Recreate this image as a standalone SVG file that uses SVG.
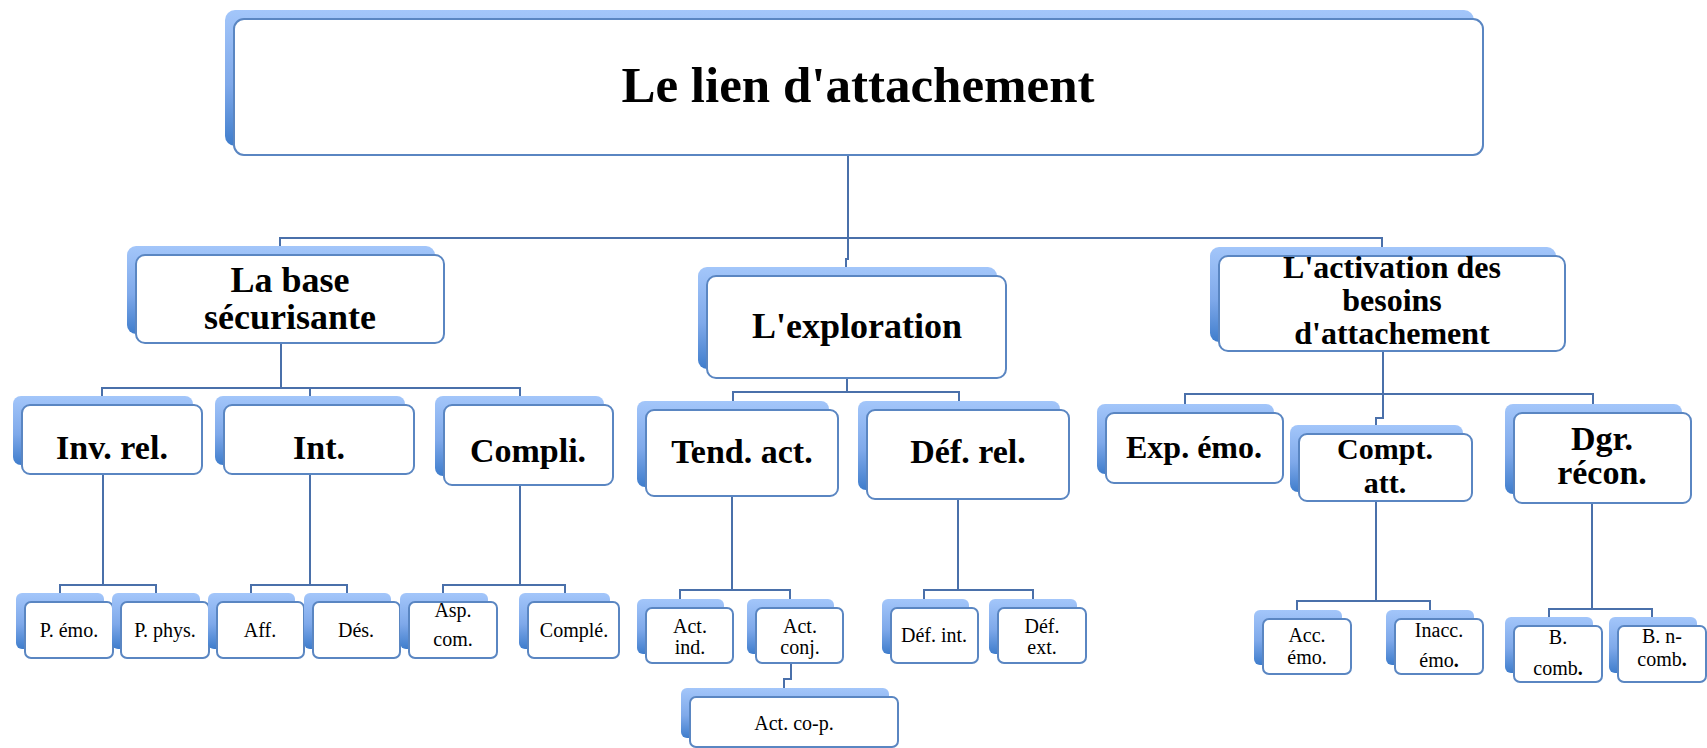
<svg xmlns="http://www.w3.org/2000/svg" width="1707" height="748" viewBox="0 0 1707 748">
<defs>
<linearGradient id="bg" x1="0" y1="0" x2="0" y2="1">
<stop offset="0" stop-color="#a3c6fa"/>
<stop offset="0.55" stop-color="#7fa9ea"/>
<stop offset="1" stop-color="#3f7dcc"/>
</linearGradient>
</defs>
<style>
.back{fill:url(#bg);stroke:none}
.front{fill:#ffffff;stroke:#5a86c2;stroke-width:2}
.conn{fill:none;stroke:#4a70aa;stroke-width:2}
.t0{font-family:"Liberation Serif",serif;font-weight:bold;font-size:51px;fill:#000;text-anchor:middle}
.t1{font-family:"Liberation Serif",serif;font-weight:bold;font-size:36px;fill:#000;text-anchor:middle}
.t2{font-family:"Liberation Serif",serif;font-weight:bold;font-size:34px;fill:#000;text-anchor:middle}
.t2s{font-family:"Liberation Serif",serif;font-weight:bold;font-size:32px;fill:#000;text-anchor:middle}
.t2x{font-family:"Liberation Serif",serif;font-weight:bold;font-size:30px;fill:#000;text-anchor:middle}
.t3{font-family:"Liberation Serif",serif;font-size:20px;fill:#000;text-anchor:middle}
.b{font-weight:bold}
</style>
<g id="connectors">
<path class="conn" d="M848,155 V259 H846 V267"/>
<path class="conn" d="M280,246 V238 H1382 V247"/>
<path class="conn" d="M281,343 V388"/>
<path class="conn" d="M102,396 V388 H520 V396 M310,388 V396"/>
<path class="conn" d="M847,378 V392"/>
<path class="conn" d="M733,401 V392 H959 V401"/>
<path class="conn" d="M1383,351 V418 H1376 V425"/>
<path class="conn" d="M1185,404 V394 H1593 V404"/>
<path class="conn" d="M103,474 V585"/>
<path class="conn" d="M60,593 V585 H156 V593"/>
<path class="conn" d="M310,474 V585"/>
<path class="conn" d="M251,593 V585 H347 V593"/>
<path class="conn" d="M520,485 V585"/>
<path class="conn" d="M443,593 V585 H565 V593"/>
<path class="conn" d="M732,496 V590"/>
<path class="conn" d="M680,599 V590 H790 V599"/>
<path class="conn" d="M791,663 V679 H784 V688"/>
<path class="conn" d="M958,499 V590"/>
<path class="conn" d="M924,599 V590 H1033 V599"/>
<path class="conn" d="M1376,501 V601"/>
<path class="conn" d="M1297,610 V601 H1430 V610"/>
<path class="conn" d="M1592,503 V609"/>
<path class="conn" d="M1549,617 V609 H1652 V617"/>
</g>
<g id="root">
<rect class="back" x="225" y="10" width="1249" height="136" rx="10"/>
<rect class="front" x="234" y="19" width="1249" height="136" rx="10"/>
<text class="t0" x="858" y="102">Le lien d'attachement</text>
</g>
<g id="base">
<rect class="back" x="127" y="246" width="308" height="88" rx="9"/>
<rect class="front" x="136" y="255" width="308" height="88" rx="9"/>
<text class="t1" x="290" y="292">La base</text>
<text class="t1" x="290" y="329">sécurisante</text>
</g>
<g id="exploration">
<rect class="back" x="698" y="267" width="299" height="102" rx="9"/>
<rect class="front" x="707" y="276" width="299" height="102" rx="9"/>
<text class="t1" x="857" y="338">L'exploration</text>
</g>
<g id="activation">
<rect class="back" x="1210" y="247" width="346" height="95" rx="9"/>
<rect class="front" x="1219" y="256" width="346" height="95" rx="9"/>
<text class="t2s" x="1392" y="278">L'activation des</text>
<text class="t2s" x="1392" y="311">besoins</text>
<text class="t2s" x="1392" y="344">d'attachement</text>
</g>
<g id="invrel">
<rect class="back" x="13" y="396" width="180" height="69" rx="8"/>
<rect class="front" x="22" y="405" width="180" height="69" rx="8"/>
<text class="t2" x="112" y="459">Inv. rel.</text>
</g>
<g id="int">
<rect class="back" x="215" y="396" width="190" height="69" rx="8"/>
<rect class="front" x="224" y="405" width="190" height="69" rx="8"/>
<text class="t2" x="319" y="459">Int.</text>
</g>
<g id="compli">
<rect class="back" x="435" y="396" width="169" height="80" rx="8"/>
<rect class="front" x="444" y="405" width="169" height="80" rx="8"/>
<text class="t2" x="528" y="462">Compli.</text>
</g>
<g id="tendact">
<rect class="back" x="637" y="401" width="192" height="86" rx="8"/>
<rect class="front" x="646" y="410" width="192" height="86" rx="8"/>
<text class="t2" x="742" y="463">Tend. act.</text>
</g>
<g id="defrel">
<rect class="back" x="858" y="401" width="202" height="89" rx="8"/>
<rect class="front" x="867" y="410" width="202" height="89" rx="8"/>
<text class="t2" x="968" y="463">Déf. rel.</text>
</g>
<g id="expemo">
<rect class="back" x="1097" y="404" width="177" height="70" rx="8"/>
<rect class="front" x="1106" y="413" width="177" height="70" rx="8"/>
<text class="t2s" x="1194" y="458">Exp. émo.</text>
</g>
<g id="comptatt">
<rect class="back" x="1290" y="425" width="173" height="67" rx="8"/>
<rect class="front" x="1299" y="434" width="173" height="67" rx="8"/>
<text class="t2x" x="1385" y="459">Compt.</text>
<text class="t2x" x="1385" y="493">att.</text>
</g>
<g id="dgrrecon">
<rect class="back" x="1505" y="404" width="177" height="90" rx="8"/>
<rect class="front" x="1514" y="413" width="177" height="90" rx="8"/>
<text class="t2" x="1602" y="450">Dgr.</text>
<text class="t2" x="1602" y="484">récon.</text>
</g>
<g id="pemo">
<rect class="back" x="16" y="593" width="88" height="56" rx="6"/>
<rect class="front" x="25" y="602" width="88" height="56" rx="6"/>
<text class="t3" x="69" y="637">P. émo.</text>
</g>
<g id="pphys">
<rect class="back" x="112" y="593" width="88" height="56" rx="6"/>
<rect class="front" x="121" y="602" width="88" height="56" rx="6"/>
<text class="t3" x="165" y="637">P. phys.</text>
</g>
<g id="aff">
<rect class="back" x="208" y="593" width="87" height="56" rx="6"/>
<rect class="front" x="217" y="602" width="87" height="56" rx="6"/>
<text class="t3" x="260" y="637">Aff.</text>
</g>
<g id="des">
<rect class="back" x="304" y="593" width="87" height="56" rx="6"/>
<rect class="front" x="313" y="602" width="87" height="56" rx="6"/>
<text class="t3" x="356" y="637">Dés.</text>
</g>
<g id="aspcom">
<rect class="back" x="400" y="593" width="88" height="56" rx="6"/>
<rect class="front" x="409" y="602" width="88" height="56" rx="6"/>
<text class="t3" x="453" y="617">Asp.</text>
<text class="t3" x="453" y="646">com.</text>
</g>
<g id="comple">
<rect class="back" x="519" y="593" width="91" height="56" rx="6"/>
<rect class="front" x="528" y="602" width="91" height="56" rx="6"/>
<text class="t3" x="574" y="637">Complé.</text>
</g>
<g id="actind">
<rect class="back" x="637" y="599" width="87" height="55" rx="6"/>
<rect class="front" x="646" y="608" width="87" height="55" rx="6"/>
<text class="t3" x="690" y="633">Act.</text>
<text class="t3" x="690" y="654">ind.</text>
</g>
<g id="actconj">
<rect class="back" x="747" y="599" width="87" height="55" rx="6"/>
<rect class="front" x="756" y="608" width="87" height="55" rx="6"/>
<text class="t3" x="800" y="633">Act.</text>
<text class="t3" x="800" y="654">conj.</text>
</g>
<g id="actcop">
<rect class="back" x="681" y="688" width="208" height="50" rx="6"/>
<rect class="front" x="690" y="697" width="208" height="50" rx="6"/>
<text class="t3" x="794" y="730">Act. co-p.</text>
</g>
<g id="defint">
<rect class="back" x="882" y="599" width="87" height="55" rx="6"/>
<rect class="front" x="891" y="608" width="87" height="55" rx="6"/>
<text class="t3" x="934" y="642">Déf. int.</text>
</g>
<g id="defext">
<rect class="back" x="989" y="599" width="88" height="55" rx="6"/>
<rect class="front" x="998" y="608" width="88" height="55" rx="6"/>
<text class="t3" x="1042" y="633">Déf.</text>
<text class="t3" x="1042" y="654">ext.</text>
</g>
<g id="accemo">
<rect class="back" x="1254" y="610" width="88" height="55" rx="6"/>
<rect class="front" x="1263" y="619" width="88" height="55" rx="6"/>
<text class="t3" x="1307" y="642">Acc.</text>
<text class="t3" x="1307" y="664">émo.</text>
</g>
<g id="inaccemo">
<rect class="back" x="1386" y="610" width="88" height="55" rx="6"/>
<rect class="front" x="1395" y="619" width="88" height="55" rx="6"/>
<text class="t3" x="1439" y="637">Inacc.</text>
<text class="t3" x="1439" y="667">émo<tspan class="b">.</tspan></text>
</g>
<g id="bcomb">
<rect class="back" x="1505" y="617" width="88" height="56" rx="6"/>
<rect class="front" x="1514" y="626" width="88" height="56" rx="6"/>
<text class="t3" x="1558" y="644">B.</text>
<text class="t3" x="1558" y="675">comb<tspan class="b">.</tspan></text>
</g>
<g id="bncomb">
<rect class="back" x="1609" y="617" width="88" height="56" rx="6"/>
<rect class="front" x="1618" y="626" width="88" height="56" rx="6"/>
<text class="t3" x="1662" y="643">B. n-</text>
<text class="t3" x="1662" y="666">comb<tspan class="b">.</tspan></text>
</g>
</svg>
